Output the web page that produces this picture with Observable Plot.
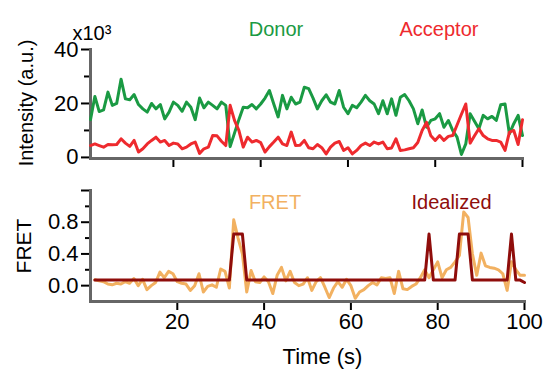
<!DOCTYPE html>
<html>
<head>
<meta charset="utf-8">
<script src="https://cdn.jsdelivr.net/npm/d3@7"></script>
<script src="https://cdn.jsdelivr.net/npm/@observablehq/plot@0.6"></script>
<style>
  html, body { margin: 0; padding: 0; background: white; }
  #chart { width: 551px; height: 369px; position: relative; }
  #chart svg { display: block; }
</style>
</head>
<body>
<div id="chart"></div>
<script>
// ---- data ----
const time = d3.range(1, 101);

// Intensity (x10^3)
const donor = [
  14, 22.6, 17, 17.6, 24.2, 19.3, 20, 29, 21.7, 21.4,
  23.3, 19.6, 18, 16.8, 20, 18, 19.6, 14.3, 16.8, 20.5,
  19.3, 17.1, 20.5, 18.6, 14, 22, 18.4, 20.5, 19.3, 18,
  20.5, 19.3, 4, 9, 14, 18.6, 18.4, 19.6, 18, 19.8,
  22, 24.8, 19.8, 15, 23, 18, 22.3, 19.8, 20.5, 26,
  25.5, 22, 18, 21, 23.2, 20.5, 19.8, 24.8, 18.6, 16.2,
  19.3, 18.4, 20.5, 23, 21, 19.8, 16.2, 21, 16.2, 21.7,
  15.6, 22.3, 23.3, 21, 18, 12.5, 17.6, 11.2, 13.7, 14.3,
  16.2, 11.2, 13.7, 10, 7.5, 1.1, 5, 16.2, 13.4, 10.6,
  15.6, 14.3, 15.2, 13.7, 19.5, 19.8, 8.7, 12.5, 15.6, 8.1
];
const acceptor = [
  4.4, 5, 4.4, 3.8, 4.8, 4.7, 4.8, 6.9, 5.3, 4.1,
  6.3, 2, 3.2, 5, 6.3, 7.5, 5.7, 6.3, 4.4, 5.3,
  5, 3.2, 3.8, 5, 5.7, 1.5, 3.2, 3.8, 8.1, 8,
  6, 4.4, 19.3, 13.7, 10, 3.8, 7.5, 5.7, 6.3, 5.5,
  2, 4, 5.7, 7.5, 5, 4.4, 9.4, 4.4, 4.5, 6.3,
  3.6, 3.2, 4.8, 3.6, 1.3, 3.8, 5.3, 5.9, 2.6, 3.6,
  1.3, 2.6, 4.4, 5.3, 4.4, 5.7, 5, 5.7, 3.2, 3.5,
  6.9, 2.6, 2.8, 3.2, 3.6, 5.5, 10, 13, 8, 6.3,
  8.1, 6.3, 7.8, 8.1, 12, 16, 19.8, 5.3, 8, 10.6,
  8.1, 6.9, 6.3, 6.3, 5.7, 2.6, 9.4, 10, 4.8, 14
];

// FRET
const fret = [
  0.075, 0.06, 0.05, 0.02, 0.01, 0.03, 0.02, 0.05, 0.03, 0.09,
  0, 0.08, -0.05, 0, 0.04, 0.17, 0.1, 0.18, 0.15, 0.05,
  0.03, 0.02, -0.06, 0, 0.15, -0.08, -0.01, 0.01, -0.02, 0.21,
  0.18, -0.03, 0.83, 0.6, 0.4, -0.08, 0.19, 0.05, 0.04, 0.11,
  0.05, -0.1, 0.13, 0.23, 0.06, 0.18, 0.04, 0, 0.02, 0.1,
  -0.06, 0.05, 0.1, -0.02, -0.15, -0.03, 0.05, -0.02, 0.08, 0,
  -0.16, -0.08, -0.05, 0, 0.04, 0.01, 0.1, 0.09, 0.1, -0.1,
  0.18, -0.04, -0.05, -0.01, 0.02, 0.1, 0.2, 0.1, 0.2, 0.3,
  0.1, 0.2, 0.23, 0.3, 0.38, 0.93, 0.86, 0.4, 0.13, 0.41,
  0.25, 0.23, 0.22, 0.2, 0.15, -0.06, 0.3, 0.2, 0.13, 0.13
];
const idealized = [
  0.07, 0.07, 0.07, 0.07, 0.07, 0.07, 0.07, 0.07, 0.07, 0.07,
  0.07, 0.07, 0.07, 0.07, 0.07, 0.07, 0.07, 0.07, 0.07, 0.07,
  0.07, 0.07, 0.07, 0.07, 0.07, 0.07, 0.07, 0.07, 0.07, 0.07,
  0.07, 0.07, 0.65, 0.65, 0.65, 0.07, 0.07, 0.07, 0.07, 0.07,
  0.07, 0.07, 0.07, 0.07, 0.07, 0.07, 0.07, 0.07, 0.07, 0.07,
  0.07, 0.07, 0.07, 0.07, 0.07, 0.07, 0.07, 0.07, 0.07, 0.07,
  0.07, 0.07, 0.07, 0.07, 0.07, 0.07, 0.07, 0.07, 0.07, 0.07,
  0.07, 0.07, 0.07, 0.07, 0.07, 0.07, 0.07, 0.65, 0.07, 0.07,
  0.07, 0.07, 0.07, 0.07, 0.65, 0.65, 0.65, 0.07, 0.07, 0.07,
  0.07, 0.07, 0.07, 0.07, 0.07, 0.07, 0.65, 0.07, 0.07, 0.04
];

// ticks & labels
const xTicks = [20, 40, 60, 80, 100];
const intensityMajor = [0, 20, 40];
const intensityMinor = [10, 30];
const fretMajor = [0, 0.4, 0.8];
const fretMinor = [0.2, 0.6, 1.0];
const fretTopTick = [1.2];

const colors = {donor: "#1a9a43", acceptor: "#ee2a2e", fret: "#f2b161", idealized: "#8f0d0b"};

const traces = time.map((t, i) => ({t, donor: donor[i], acceptor: acceptor[i], fret: fret[i], idealized: idealized[i]}));

const font = "Liberation Sans, Arial, Helvetica, sans-serif";
const axisGray = "#666";

const topPlot = Plot.plot({
  width: 551, height: 175,
  marginLeft: 90, marginRight: 29, marginTop: 49, marginBottom: 17,
  x: {domain: [1, 100]},
  y: {domain: [-0.4, 40]},
  style: {fontFamily: font, fontSize: "20px", color: "black", background: "white", overflow: "visible"},
  marks: [
    Plot.axisY({ticks: intensityMajor, tickSize: 9, tickPadding: 3, strokeWidth: 2, label: null, fontSize: 22}),
    Plot.axisY({ticks: intensityMinor, tickSize: 6, strokeWidth: 2, tickFormat: () => "", label: null}),
    Plot.axisX({ticks: xTicks, tickSize: 9, strokeWidth: 2, tickFormat: () => "", label: null}),
    Plot.frame({anchor: "left", stroke: axisGray, strokeWidth: 3}),
    Plot.frame({anchor: "bottom", stroke: axisGray, strokeWidth: 3}),
    Plot.line(traces, {x: "t", y: "donor", stroke: colors.donor, strokeWidth: 3}),
    Plot.line(traces, {x: "t", y: "acceptor", stroke: colors.acceptor, strokeWidth: 3}),
    Plot.text(["x10³"], {text: d => d, frameAnchor: "top-left", textAnchor: "start", lineAnchor: "bottom", dx: -18, dy: -10, fontSize: 20, fill: "black"}),
    Plot.text(["Intensity (a.u.)"], {text: d => d, frameAnchor: "left", textAnchor: "middle", rotate: -90, dx: -64, dy: -1, fontSize: 20, fill: "black"}),
    Plot.text(["Donor"], {text: d => d, frameAnchor: "top", lineAnchor: "bottom", dx: -30.5, dy: -13.5, fontSize: 20, fill: colors.donor}),
    Plot.text(["Acceptor"], {text: d => d, frameAnchor: "top", lineAnchor: "bottom", dx: 132.5, dy: -13.5, fontSize: 20, fill: colors.acceptor})
  ]
});

const bottomPlot = Plot.plot({
  width: 551, height: 194,
  marginLeft: 90, marginRight: 27, marginTop: 15, marginBottom: 68,
  x: {domain: [0, 100]},
  y: {domain: [-0.2, 1.2]},
  style: {fontFamily: font, fontSize: "20px", color: "black", background: "white", overflow: "visible"},
  marks: [
    Plot.axisY({ticks: fretMajor, tickFormat: d3.format(".1f"), tickSize: 9, tickPadding: 3, strokeWidth: 2, label: null, fontSize: 22}),
    Plot.axisY({ticks: fretMinor, tickSize: 5, strokeWidth: 2, tickFormat: () => "", label: null}),
    Plot.axisY({ticks: fretTopTick, tickSize: 9, strokeWidth: 2, tickFormat: () => "", label: null}),
    Plot.axisX({ticks: xTicks, tickSize: 9, tickPadding: 3, strokeWidth: 2, label: null, fontSize: 22}),
    Plot.frame({anchor: "left", stroke: axisGray, strokeWidth: 3}),
    Plot.frame({anchor: "bottom", stroke: axisGray, strokeWidth: 3}),
    Plot.line(traces, {x: "t", y: "fret", stroke: colors.fret, strokeWidth: 3}),
    Plot.line(traces, {x: "t", y: "idealized", stroke: colors.idealized, strokeWidth: 3}),
    Plot.text(["FRET"], {text: d => d, frameAnchor: "left", textAnchor: "middle", rotate: -90, dx: -66.5, fontSize: 21, fill: "black"}),
    Plot.text(["FRET"], {text: d => d, frameAnchor: "top", lineAnchor: "bottom", dx: -32.5, dy: 18, fontSize: 20, fill: colors.fret}),
    Plot.text(["Idealized"], {text: d => d, frameAnchor: "top", lineAnchor: "bottom", dx: 144, dy: 18, fontSize: 20, fill: colors.idealized}),
    Plot.text(["Time (s)"], {text: d => d, frameAnchor: "bottom", lineAnchor: "bottom", dx: 15, dy: 62, fontSize: 22, fill: "black"})
  ]
});

const chart = document.getElementById("chart");
chart.appendChild(topPlot);
chart.appendChild(bottomPlot);
</script>
</body>
</html>
